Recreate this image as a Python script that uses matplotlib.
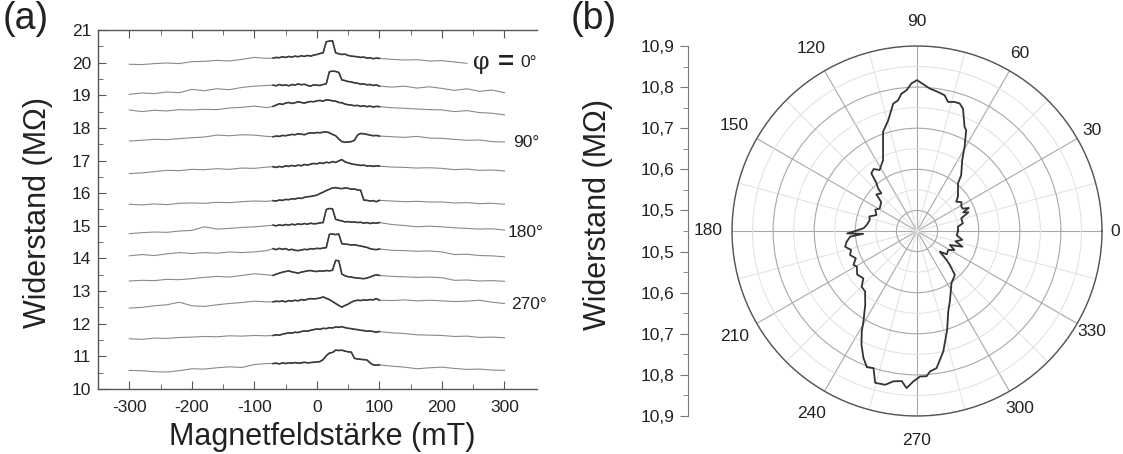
import numpy as np
import matplotlib
matplotlib.use("Agg")
import matplotlib.pyplot as plt
from matplotlib.ticker import MultipleLocator, FixedLocator

plt.rcParams['font.family'] = ['Liberation Sans', 'DejaVu Sans']
plt.rcParams['axes.unicode_minus'] = False

# ---------------- data panel (a) ----------------
field = [-300, -280, -260, -240, -220, -200, -180, -160, -140, -120, -100, -80,
         -70, -65, -60, -55, -50, -45, -40, -35, -30, -25, -20, -15, -10, -5,
         0, 5, 10, 15, 20, 25, 30, 35, 40, 45, 50, 55, 60, 65, 70, 75, 80, 85, 90, 95, 100,
         120, 140, 160, 180, 200, 220, 240, 260, 280, 300]

phi000 = [19.95, 19.94, 19.97, 19.99, 19.97, 20.03, 20.04, 20.07, 20.05, 20.10, 20.16, 20.13,
          20.14, 20.16, 20.15, 20.18, 20.16, 20.19, 20.17, 20.20, 20.18, 20.21, 20.19, 20.22, 20.20, 20.23,
          20.25, 20.28, 20.30, 20.64, 20.66, 20.67, 20.30, 20.27, 20.25, 20.26, 20.22, 20.20, 20.19, 20.18,
          20.16, 20.17, 20.14, 20.15, 20.12, 20.14, 20.13,
          20.10, 20.08, 20.09, 20.05, 20.06, 20.02, 19.98, None, None, None]
phi030 = [19.03, 19.07, 19.05, 19.10, 19.08, 19.18, 19.14, 19.20, 19.17, 19.24, 19.28, 19.30,
          19.31, 19.29, 19.33, 19.30, 19.32, 19.29, 19.33, 19.31, 19.35, 19.32, 19.34, 19.30, 19.28, 19.32,
          19.31, 19.30, 19.33, 19.35, 19.72, 19.74, 19.73, 19.70, 19.47, 19.45, 19.42, 19.41, 19.38, 19.37,
          19.34, 19.35, 19.32, 19.33, 19.30, 19.32, 19.28,
          19.25, 19.28, 19.22, 19.26, 19.21, 19.15, 19.20, 19.12, 19.16, 19.08]
phi060 = [18.55, 18.50, 18.54, 18.52, 18.56, 18.55, 18.57, 18.56, 18.61, 18.63, 18.67, 18.62,
          18.66, 18.70, 18.74, 18.72, 18.76, 18.78, 18.75, 18.77, 18.80, 18.78, 18.76, 18.79, 18.81, 18.80,
          18.83, 18.84, 18.82, 18.86, 18.85, 18.83, 18.82, 18.78, 18.77, 18.73, 18.71, 18.70, 18.68, 18.69,
          18.66, 18.68, 18.65, 18.67, 18.64, 18.66, 18.65,
          18.62, 18.60, 18.58, 18.56, 18.55, 18.50, 18.53, 18.47, 18.45, 18.40]
phi090 = [17.60, 17.62, 17.65, 17.64, 17.67, 17.70, 17.72, 17.78, 17.76, 17.79, 17.78, 17.74,
          17.73, 17.75, 17.74, 17.77, 17.76, 17.78, 17.80, 17.79, 17.82, 17.81, 17.79, 17.83, 17.85, 17.84,
          17.86, 17.85, 17.87, 17.88, 17.85, 17.80, 17.76, 17.66, 17.58, 17.56, 17.57, 17.58, 17.62, 17.78,
          17.83, 17.82, 17.80, 17.78, 17.76, 17.77, 17.75,
          17.73, 17.71, 17.74, 17.69, 17.68, 17.65, 17.62, 17.63, 17.58, 17.57]
phi120 = [16.60, 16.62, 16.66, 16.70, 16.69, 16.73, 16.72, 16.75, 16.73, 16.77, 16.76, 16.80,
          16.81, 16.79, 16.82, 16.80, 16.84, 16.82, 16.85, 16.83, 16.86, 16.84, 16.88, 16.86, 16.89, 16.91,
          16.90, 16.93, 16.91, 16.95, 16.93, 16.97, 16.94, 16.99, 17.03, 16.96, 16.93, 16.90, 16.88, 16.87,
          16.85, 16.86, 16.83, 16.84, 16.82, 16.84, 16.83,
          16.80, 16.79, 16.77, 16.78, 16.76, 16.72, 16.74, 16.70, 16.71, 16.68]
phi150 = [15.66, 15.64, 15.67, 15.65, 15.69, 15.70, 15.69, 15.72, 15.71, 15.74, 15.76, 15.75,
          15.77, 15.76, 15.79, 15.78, 15.81, 15.80, 15.83, 15.82, 15.85, 15.84, 15.87, 15.89, 15.90, 15.92,
          15.94, 15.99, 16.03, 16.08, 16.12, 16.16, 16.17, 16.15, 16.14, 16.16, 16.15, 16.12, 16.13, 16.10,
          16.09, 15.79, 15.78, 15.76, 15.77, 15.74, 15.78,
          15.76, 15.74, 15.75, 15.73, 15.73, 15.70, 15.71, 15.68, 15.69, 15.66]
phi180 = [14.76, 14.79, 14.81, 14.80, 14.84, 14.86, 14.97, 14.90, 14.92, 14.95, 14.97, 15.00,
          15.02, 15.00, 15.03, 15.01, 15.04, 15.02, 15.05, 15.03, 15.06, 15.04, 15.07, 15.05, 15.08, 15.06,
          15.07, 15.09, 15.10, 15.50, 15.53, 15.52, 15.20, 15.17, 15.15, 15.12, 15.13, 15.11, 15.12, 15.10,
          15.11, 15.08, 15.10, 15.07, 15.09, 15.08, 15.10,
          15.04, 15.01, 14.97, 14.99, 14.97, 14.94, 14.92, 14.90, 14.91, 14.87]
phi210 = [14.08, 14.12, 14.09, 14.14, 14.18, 14.15, 14.18, 14.16, 14.20, 14.18, 14.20, 14.24,
          14.30, 14.27, 14.31, 14.28, 14.30, 14.26, 14.28, 14.25, 14.24, 14.26, 14.28, 14.27, 14.30, 14.29,
          14.31, 14.30, 14.32, 14.33, 14.74, 14.75, 14.73, 14.75, 14.45, 14.44, 14.43, 14.41, 14.42, 14.40,
          14.38, 14.36, 14.34, 14.30, 14.28, 14.27, 14.29,
          14.25, 14.24, 14.22, 14.23, 14.20, 14.12, 14.13, 14.09, 14.08, 14.05]
phi240 = [13.31, 13.33, 13.32, 13.36, 13.35, 13.38, 13.42, 13.45, 13.43, 13.48, 13.53, 13.50,
          13.48, 13.52, 13.55, 13.58, 13.60, 13.62, 13.59, 13.57, 13.55, 13.58, 13.60, 13.62, 13.63, 13.61,
          13.60, 13.62, 13.61, 13.63, 13.62, 13.64, 13.94, 13.93, 13.52, 13.47, 13.44, 13.43, 13.41, 13.40,
          13.39, 13.38, 13.40, 13.43, 13.47, 13.50, 13.48,
          13.45, 13.44, 13.42, 13.43, 13.41, 13.33, 13.34, 13.31, 13.32, 13.30]
phi270 = [12.48, 12.50, 12.55, 12.58, 12.66, 12.55, 12.53, 12.58, 12.62, 12.65, 12.69, 12.67,
          12.67, 12.69, 12.68, 12.70, 12.67, 12.71, 12.69, 12.72, 12.70, 12.74, 12.72, 12.75, 12.77, 12.76,
          12.77, 12.79, 12.82, 12.78, 12.74, 12.68, 12.62, 12.56, 12.51, 12.56, 12.60, 12.66, 12.70, 12.72,
          12.71, 12.73, 12.72, 12.74, 12.73, 12.77, 12.72,
          12.71, 12.73, 12.70, 12.72, 12.70, 12.68, 12.69, 12.72, 12.66, 12.62]
phi300 = [11.54, 11.52, 11.56, 11.55, 11.58, 11.59, 11.61, 11.60, 11.63, 11.62, 11.64, 11.63,
          11.64, 11.66, 11.65, 11.68, 11.70, 11.72, 11.71, 11.74, 11.73, 11.76, 11.78, 11.77, 11.80, 11.82,
          11.84, 11.83, 11.86, 11.85, 11.88, 11.87, 11.90, 11.89, 11.91, 11.88, 11.86, 11.85, 11.83, 11.82,
          11.80, 11.79, 11.77, 11.78, 11.76, 11.74, 11.76,
          11.72, 11.70, 11.66, 11.65, 11.64, 11.61, 11.62, 11.58, 11.59, 11.57]
phi330 = [10.57, 10.56, 10.53, 10.52, 10.56, 10.62, 10.61, 10.65, 10.68, 10.66, 10.75, 10.78,
          10.78, 10.79, 10.77, 10.80, 10.78, 10.80, 10.79, 10.81, 10.79, 10.80, 10.82, 10.80, 10.81, 10.82,
          10.83, 10.84, 10.90, 11.02, 11.10, 11.12, 11.19, 11.18, 11.19, 11.16, 11.14, 11.13, 10.94, 10.92,
          10.91, 10.90, 10.89, 10.80, 10.74, 10.73, 10.74,
          10.70, 10.67, 10.62, 10.65, 10.67, 10.63, 10.60, 10.61, 10.58, 10.57]

traces = [phi000, phi030, phi060, phi090, phi120, phi150,
          phi180, phi210, phi240, phi270, phi300, phi330]

# ---------------- data panel (b) ----------------
angle_deg = [0, 6, 9.5, 16, 20, 22, 24, 26, 28.8, 33, 36.7, 40, 45, 49.3, 51.6, 57.4, 60.5, 64, 65.4,
             69.4, 71.5, 73.8, 76.5, 78.5, 81.4, 84.9, 90, 92.2, 94.3, 96.5, 98.3, 100.6, 104.6, 108.9,
             115.6, 121.5, 125, 128.4, 130, 132.4, 133.4, 138, 141, 148.7, 153, 158.5, 163, 167, 173,
             177, 180, 182, 183, 184.8, 188.6, 192.3, 196, 199.7, 204, 208.1, 210.6, 216, 221.4, 225.2,
             229.4, 234.9, 239.4, 241.2, 244, 247.1, 249.8, 252.4, 254.6, 258.3, 261.1, 264.2, 266.2,
             268.6, 271.2, 273.8, 275.3, 278.1, 282.3, 287, 291.2, 295, 300, 303.5, 310.8, 314, 315.6,
             318, 322, 328.8, 333, 337, 341, 345, 349, 354, 360]
resistance = [10.550, 10.550, 10.563, 10.562, 10.583, 10.571, 10.588, 10.574, 10.573, 10.579, 10.569,
              10.580, 10.591, 10.603, 10.623, 10.654, 10.685, 10.723, 10.728, 10.768, 10.777, 10.777,
              10.773, 10.787, 10.792, 10.798, 10.817, 10.809, 10.793, 10.786, 10.771, 10.765, 10.728,
              10.705, 10.641, 10.624, 10.634, 10.629, 10.605, 10.590, 10.576, 10.583, 10.562, 10.556,
              10.564, 10.556, 10.571, 10.568, 10.573, 10.580, 10.600, 10.620, 10.581, 10.613, 10.623,
              10.629, 10.617, 10.623, 10.613, 10.625, 10.620, 10.630, 10.624, 10.641, 10.644, 10.669,
              10.706, 10.729, 10.758, 10.785, 10.803, 10.800, 10.833, 10.832, 10.820, 10.817, 10.833,
              10.816, 10.804, 10.804, 10.793, 10.787, 10.750, 10.701, 10.660, 10.639, 10.615, 10.602,
              10.591, 10.565, 10.551, 10.525, 10.542, 10.539, 10.552, 10.537, 10.567, 10.547, 10.562,
              10.547, 10.550]

r_ticks = [10.5, 10.6, 10.7, 10.8, 10.9]
r_minor = [10.55, 10.65, 10.75, 10.85]
r_center = 10.45
r_labels = ['10,5', '10,6', '10,7', '10,8', '10,9']
theta_labels = ['0', '30', '60', '90', '120', '150', '180', '210', '240', '270', '300', '330']

# ---------------- figure ----------------
fig = plt.figure(figsize=(11.23, 4.54), dpi=100)
txt = '#222222'
spine_c = '#555555'

# panel (a)
ax = fig.add_axes([98/1123, 1-389/454, (537-98)/1123, (389-30)/454])
fx = np.array(field, dtype=float)
for tr in traces:
    y = np.array([np.nan if v is None else v for v in tr], dtype=float)
    ax.plot(fx, y, color='#8a8a8a', lw=0.8)
    ax.plot(fx[12:47], y[12:47], color='#3a3a3a', lw=1.2)

ax.set_xlim(-350, 352)
ax.set_ylim(10, 21)
ax.spines['right'].set_visible(False)
for s in ['left', 'bottom', 'top']:
    ax.spines[s].set_color(spine_c)
    ax.spines[s].set_linewidth(1.0)
ax.set_xticks([-300, -200, -100, 0, 100, 200, 300])
ax.xaxis.set_minor_locator(FixedLocator([-250, -150, -50, 50, 150, 250]))
ax.yaxis.set_major_locator(MultipleLocator(1))
ax.yaxis.set_minor_locator(MultipleLocator(0.5))
ax.tick_params(axis='x', which='both', direction='in', top=True, bottom=True,
               colors=spine_c, labelcolor=txt, labelsize=12.5, pad=8)
ax.tick_params(axis='y', which='both', direction='in', left=True, right=False,
               colors=spine_c, labelcolor=txt, labelsize=12.5, pad=5)
ax.tick_params(which='major', length=6)
ax.tick_params(which='minor', length=3.5)

ax.text(263, 19.99, 'φ', fontsize=17, ha='center', va='center', color=txt, family='DejaVu Serif')
ax.text(302, 19.99, '=', fontsize=20, ha='center', va='center', color=txt, fontweight='bold')
ax.text(326, 19.99, '0°', fontsize=12.5, ha='left', va='center', color=txt)
ax.text(314, 17.56, '90°', fontsize=12.5, ha='left', va='center', color=txt)
ax.text(305, 14.78, '180°', fontsize=12.5, ha='left', va='center', color=txt)
ax.text(310, 12.60, '270°', fontsize=12.5, ha='left', va='center', color=txt)

fig.text(38/1123, 1-213/454, 'Widerstand (MΩ)', rotation=90, fontsize=22,
         ha='center', va='center', color=txt)
fig.text(322/1123, 1-437/454, 'Magnetfeldstärke (mT)', fontsize=22,
         ha='center', va='center', color=txt)
fig.text(3/1123, 1-1/454, '(a)', fontsize=27, ha='left', va='top', color=txt)
fig.text(571/1123, 1-1/454, '(b)', fontsize=27, ha='left', va='top', color=txt)

# panel (b) polar
pb = 1-416/454
ph = 370/454
axp = fig.add_axes([732/1123, pb, 370/1123, ph], projection='polar')
axp.plot(np.deg2rad(angle_deg), resistance, color='#333333', lw=1.3, zorder=5)
axp.set_ylim(r_center, r_ticks[-1])
axp.set_yticks(r_ticks)
axp.set_yticks(r_minor, minor=True)
axp.set_yticklabels([])
theta_major = np.deg2rad([int(t) for t in theta_labels])
axp.set_xticks(theta_major)
axp.set_xticklabels([])
axp.set_xticks(np.deg2rad(np.arange(15, 360, 30)), minor=True)
axp.grid(which='major', color='#a8a8a8', lw=0.8)
axp.grid(which='minor', color='#e0e0e0', lw=0.7)
axp.spines['polar'].set_color(spine_c)
axp.spines['polar'].set_linewidth(1.0)
axp.tick_params(axis='x', which='major', direction='in', length=5, colors=spine_c)
axp.tick_params(axis='x', which='minor', direction='in', length=4, colors=spine_c)
axp.tick_params(axis='y', which='both', length=0)
r_span = r_ticks[-1] - r_center
for th, lab in zip(theta_major, theta_labels):
    dist_px = 203.5 + 5.5 * abs(np.sin(th)) - 5.5 * np.cos(th)
    axp.text(th, r_center + r_span * dist_px / 185, lab, fontsize=12.5, color=txt,
             ha='center', va='center', clip_on=False)

# side radial scale of (b)
axs = fig.add_axes([688/1123, pb, 0.001, ph])
pos_major = [v - r_center for v in r_ticks][::-1] + [-(v - r_center) for v in r_ticks]
lab_major = r_labels[::-1] + r_labels
pos_minor = [v - r_center for v in r_minor] + [0.0] + [-(v - r_center) for v in r_minor]
axs.set_ylim(-r_span, r_span)
axs.set_yticks(pos_major)
axs.set_yticklabels(lab_major)
axs.set_yticks(pos_minor, minor=True)
axs.set_xticks([])
for s in ['right', 'top', 'bottom']:
    axs.spines[s].set_visible(False)
axs.spines['left'].set_color('#777777')
axs.patch.set_alpha(0)
axs.tick_params(axis='y', which='both', direction='out', colors='#777777',
                labelcolor=txt, labelsize=12.5)
axs.tick_params(axis='y', which='major', length=6)
axs.tick_params(axis='y', which='minor', length=3.5)

fig.text(598/1123, 1-215/454, 'Widerstand (MΩ)', rotation=90, fontsize=22,
         ha='center', va='center', color=txt)

fig.savefig('out.png', dpi=100)
